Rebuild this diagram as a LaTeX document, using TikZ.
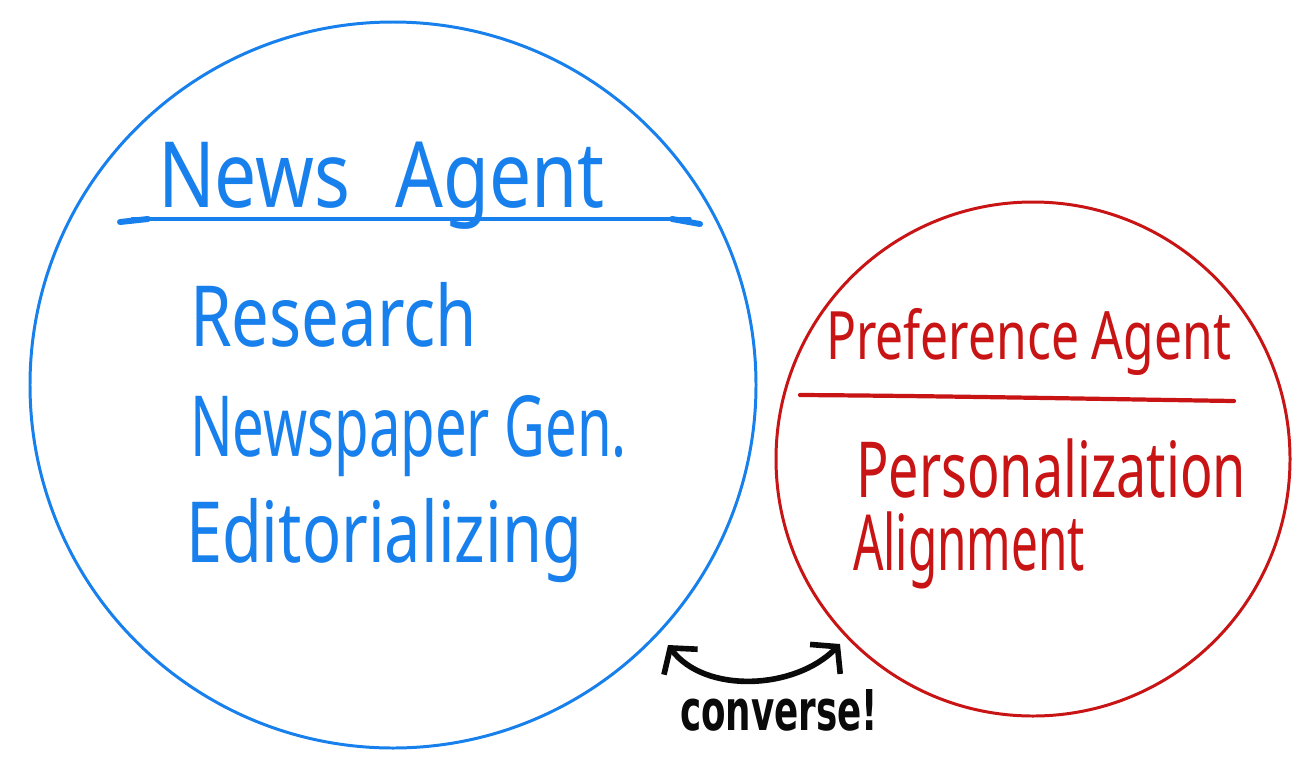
\documentclass[tikz,border=0pt]{standalone}
\usepackage{fontspec}
\setmainfont{Noto Sans}
\newfontfamily\heavyhand{DejaVu Sans}
\usetikzlibrary{arrows.meta}
\newlength\px
\setlength\px{0.02cm}
% squeeze a line of text to a given width, keeping its height
\newcommand\fitw[2]{\resizebox{#1}{\height}{#2}}
\definecolor{inkblue}{RGB}{24,128,236}
\definecolor{inkred}{RGB}{200,20,20}
\definecolor{inkblack}{RGB}{10,10,10}
\begin{document}
\begin{tikzpicture}[x=0.02cm,y=-0.02cm,
  ring/.style={circle,draw,line width=1.7pt,inner sep=0pt,outer sep=0pt},
  hand/.style={anchor=base west,inner sep=0pt,outer sep=0pt},
  bluetext/.style={hand,text=inkblue},
  redtext/.style={hand,text=inkred},
  underline/.style={line width=1.8pt,line cap=round},
  barb/.style={line cap=round,line join=round},
  talk/.style={draw=inkblack,line width=3.2pt,line cap=round,
    {Straight Barb[length=10pt,width=24pt,line width=3.2pt]}-{Straight Barb[length=10pt,width=24pt,line width=3.2pt]}}]
\fill[white] (0,0) rectangle (1315,768);
\useasboundingbox (0,0) rectangle (1315,768);

% the two agents
\node[ring,draw=inkblue,minimum size=726\px] (news) at (393,385) {};
\node[ring,draw=inkred,minimum size=514\px] (pref) at (1033,459) {};

% News Agent heading and its tasks
\node[bluetext,font=\fontsize{52}{52}\selectfont] (newstitle) at (158,207) {\fitw{447\px}{News\hspace{0.6em}Agent}};
\coordinate (nl) at (120,222);
\coordinate (nr) at (700,224);
\draw[inkblue,underline] (132,219) -- (690,219);
\draw[inkblue,line width=3.4pt,barb] (nl) -- (148,219);
\draw[inkblue,line width=3.4pt,barb] (672,219) -- (nr);
\node[bluetext,font=\fontsize{48}{48}\selectfont] (research) at (190,346) {\fitw{287\px}{Research}};
\node[bluetext,font=\fontsize{48}{48}\selectfont] (paper) at (190,456) {\fitw{437\px}{Newspaper Gen.}};
\node[bluetext,font=\fontsize{48}{48}\selectfont] (editorial) at (186,562) {\fitw{396\px}{Editorializing}};

% Preference Agent heading and its tasks
\node[redtext,font=\fontsize{38}{38}\selectfont] (preftitle) at (826,359) {\fitw{405\px}{Preference Agent}};
\coordinate (pl) at (800,395);
\coordinate (pr) at (1234,401);
\draw[inkred,underline,line width=2.4pt] (pl) .. controls (950,396) and (1100,399) .. (pr);
\node[redtext,font=\fontsize{44}{44}\selectfont] (personal) at (856,497) {\fitw{390\px}{Personalization}};
\node[redtext,font=\fontsize{44}{44}\selectfont] (align) at (853,570) {\fitw{232\px}{Alignment}};

% the two agents talk to each other
\coordinate (tl) at (668,645);
\coordinate (tr) at (840,644);
\draw[talk] (tl) .. controls (705,694) and (795,690) .. (tr);
\node[hand,text=inkblack,font=\fontsize{32}{32}\heavyhand\bfseries] (converse) at (680,730) {\fitw{198\px}{converse!}};
\end{tikzpicture}
\end{document}
